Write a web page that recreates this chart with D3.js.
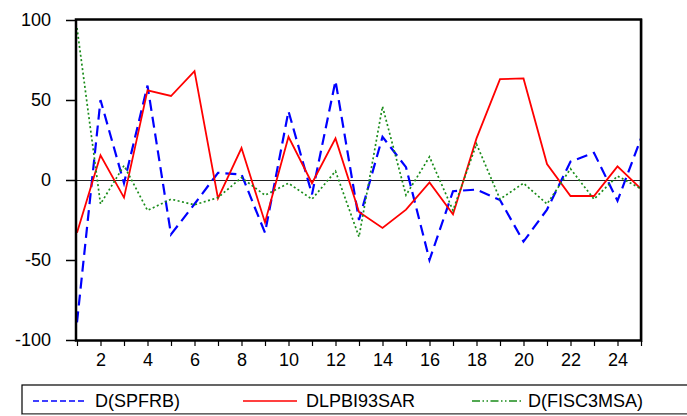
<!DOCTYPE html>
<html><head><meta charset="utf-8">
<script src="https://cdn.jsdelivr.net/npm/d3@7"></script>
<style>body{margin:0;background:#fff}svg{display:block;font-family:"Liberation Sans",Arial,sans-serif}</style>
</head><body>
<script>
const periods = d3.range(1, 26);
const spfrb = [-89, 50, -2, 59, -34, -15, 4.5, 3.5, -33, 43, -9, 62, -25, 27, 8, -50, -7, -6, -12.5, -38.5, -18.5, 11.5, 17, -13, 26];
const dlpbi = [-33, 15.5, -11, 56, 52.5, 68, -11.5, 20, -26.5, 27, -2, 26, -20, -30, -18.5, -1.5, -21.5, 26, 63, 63.5, 10, -10, -10, 8.5, -5.5];
const fisc = [95, -15, 9, -19, -12, -15.5, -11, 1.5, -9.5, -2, -12, 5.5, -35.5, 46, -9.5, 14.5, -19, 22.5, -12, -2, -15, 7, -12, 2.5, -5.5];
const yTicks = [100, 50, 0, -50, -100];
const xTickLabels = [2,4,6,8,10,12,14,16,18,20,22,24];
const seriesNames = ["D(SPFRB)", "DLPBI93SAR", "D(FISC3MSA)"];

const W = 687, H = 416;
const FONT = "Liberation Sans, Arial, sans-serif";
const svg = d3.select("body").append("svg").attr("width", W).attr("height", H);
const x = d3.scaleLinear().domain([1, 25]).range([77, 641]);
const y = d3.scaleLinear().domain([-100, 100]).range([340, 20]);

// zero line
svg.append("line").attr("x1", 76).attr("x2", 641).attr("y1", y(0) + 0.5).attr("y2", y(0) + 0.5)
  .attr("stroke", "#222").attr("stroke-width", 1);

const line = d3.line().x((d, i) => x(periods[i])).y(d => y(d));
const series = [
  {data: spfrb, color: "#0000ff", width: 2.2, dash: "11,6"},
  {data: dlpbi, color: "#ff0000", width: 1.8, dash: null},
  {data: fisc, color: "#1a8c1a", width: 1.7, dash: "2,2.5"}
];
series.forEach(s => {
  svg.append("path").datum(s.data).attr("d", line).attr("fill", "none")
    .attr("stroke", s.color).attr("stroke-width", s.width)
    .attr("stroke-dasharray", s.dash);
});

// frame
svg.append("rect").attr("x", 76).attr("y", 19.5).attr("width", 565).attr("height", 321)
  .attr("fill", "none").attr("stroke", "#000").attr("stroke-width", 2.5);
svg.append("line").attr("x1", 642.5).attr("x2", 642.5).attr("y1", 19).attr("y2", 342)
  .attr("stroke", "#999").attr("stroke-width", 1);

// y axis
const yAxis = d3.axisLeft(y).tickValues(yTicks).tickSize(10).tickPadding(15).tickFormat(d => String(d));
const gy = svg.append("g").attr("transform", "translate(76,0)").call(yAxis);
gy.select(".domain").remove();
gy.selectAll("line").attr("stroke", "#000").attr("stroke-width", 1.5);
gy.selectAll("text").attr("font-size", 18).attr("fill", "#000").attr("font-family", FONT);

// x axis
const xAxis = d3.axisBottom(x).tickValues(periods).tickSize(5).tickPadding(7)
  .tickFormat(d => xTickLabels.includes(d) ? String(d) : "");
const gx = svg.append("g").attr("transform", "translate(0,341)").call(xAxis);
gx.select(".domain").remove();
gx.selectAll("line").attr("stroke", "#000").attr("stroke-width", 1.2);
gx.selectAll("text").attr("font-size", 18).attr("fill", "#000").attr("font-family", FONT);

// legend
svg.append("rect").attr("x", 22).attr("y", 385).attr("width", 680).attr("height", 29)
  .attr("fill", "none").attr("stroke", "#000").attr("stroke-width", 1.2);
svg.append("line").attr("x1", 22).attr("x2", 687).attr("y1", 414.5).attr("y2", 414.5)
  .attr("stroke", "#999").attr("stroke-width", 1);
const leg = [
  {x1: 33, x2: 87, tx: 95, color: "#0000ff", dash: "6,3"},
  {x1: 243, x2: 297, tx: 306, color: "#ff0000", dash: null},
  {x1: 472, x2: 523, tx: 528, color: "#1a8c1a", dash: "8,2.5,1.5,2.5,1.5,2.5"}
];
leg.forEach((l, i) => {
  svg.append("line").attr("x1", l.x1).attr("x2", l.x2).attr("y1", 401).attr("y2", 401)
    .attr("stroke", l.color).attr("stroke-width", 1.6).attr("stroke-dasharray", l.dash);
  svg.append("text").attr("x", l.tx).attr("y", 407).attr("font-size", 18)
    .attr("font-family", FONT).text(seriesNames[i]);
});
</script>
</body></html>
